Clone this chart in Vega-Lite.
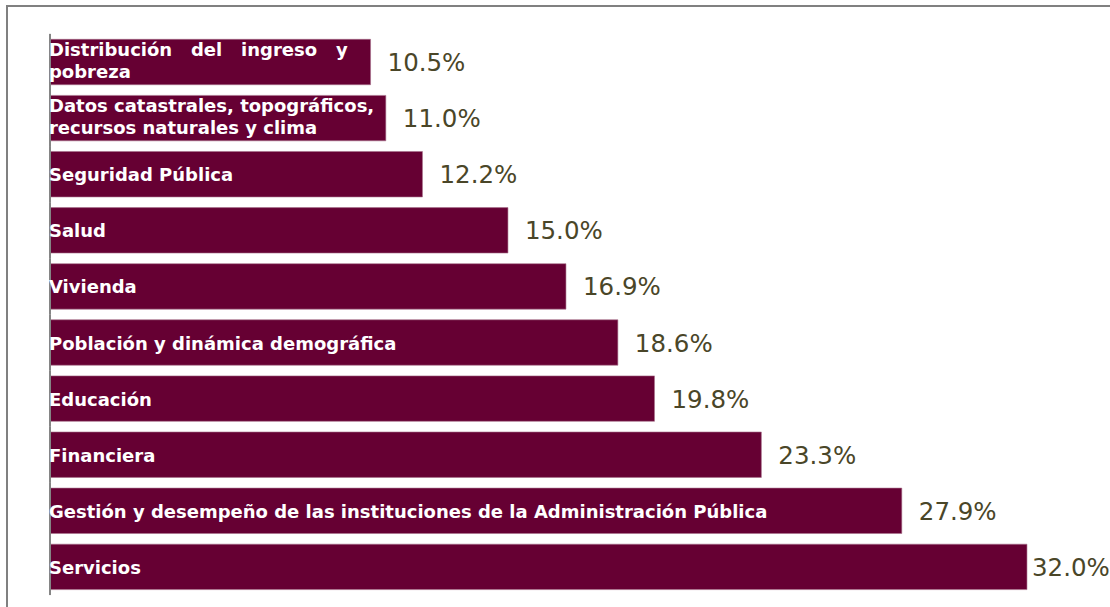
{
  "$schema": "https://vega.github.io/schema/vega-lite/v6.json",
  "autosize": {"type": "none"},
  "padding": {"left": 7, "top": 6, "right": 0, "bottom": 0},
  "width": 1113,
  "height": 610,
  "background": "white",
  "config": {
    "view": {"stroke": "#808080", "strokeWidth": 2},
    "font": "DejaVu Sans"
  },
  "data": {
    "values": [
      {"label": ["Distribución\u00a0\u00a0\u00a0del\u00a0\u00a0\u00a0ingreso\u00a0\u00a0\u00a0y", "pobreza"], "value": 10.5, "pct": "10.5%"},
      {"label": ["Datos catastrales, topográficos,", "recursos naturales y clima"], "value": 11.0, "pct": "11.0%"},
      {"label": "Seguridad Pública", "value": 12.2, "pct": "12.2%"},
      {"label": "Salud", "value": 15.0, "pct": "15.0%"},
      {"label": "Vivienda", "value": 16.9, "pct": "16.9%"},
      {"label": "Población y dinámica demográfica", "value": 18.6, "pct": "18.6%"},
      {"label": "Educación", "value": 19.8, "pct": "19.8%"},
      {"label": "Financiera", "value": 23.3, "pct": "23.3%"},
      {"label": "Gestión y desempeño de las instituciones de la Administración Pública", "value": 27.9, "pct": "27.9%"},
      {"label": "Servicios", "value": 32.0, "pct": "32.0%"}
    ]
  },
  "encoding": {
    "y": {
      "field": "pct",
      "type": "nominal",
      "sort": null,
      "axis": null,
      "scale": {"paddingInner": 0.19, "paddingOuter": 0.532, "align": 0.558}
    }
  },
  "layer": [
    {
      "mark": {"type": "bar", "color": "#660033", "stroke": "#a8708c", "strokeWidth": 0.6},
      "encoding": {
        "x": {"field": "value", "type": "quantitative", "axis": null,
              "scale": {"domain": [-1.408, 35.047], "nice": false, "zero": false}}
      }
    },
    {
      "mark": {"type": "rule", "color": "#858585", "strokeWidth": 2},
      "encoding": {
        "x": {"datum": 0, "type": "quantitative"},
        "y": {"field": "pct", "type": "nominal", "sort": null, "bandPosition": -0.12},
        "y2": {"field": "pct", "bandPosition": 1.12}
      }
    },
    {
      "transform": [{"filter": "!isArray(datum.label)"}],
      "mark": {"type": "text", "align": "left", "baseline": "middle", "color": "white", "fontWeight": "bold", "fontSize": 18, "dx": -1, "dy": 2},
      "encoding": {
        "x": {"datum": 0, "type": "quantitative"},
        "text": {"field": "label"}
      }
    },
    {
      "transform": [{"filter": "isArray(datum.label)"}],
      "mark": {"type": "text", "align": "left", "baseline": "middle", "color": "white", "fontWeight": "bold", "fontSize": 18, "lineHeight": 22.5, "dx": -1, "dy": -11.5},
      "encoding": {
        "x": {"datum": 0, "type": "quantitative"},
        "text": {"field": "label"}
      }
    },
    {
      "transform": [{"filter": "datum.value < 30"}],
      "mark": {"type": "text", "align": "left", "baseline": "middle", "color": "#4a4628", "fontSize": 24.5, "dx": 17, "dy": 2},
      "encoding": {
        "x": {"field": "value", "type": "quantitative"},
        "text": {"field": "pct"}
      }
    },
    {
      "transform": [{"filter": "datum.value >= 30"}],
      "mark": {"type": "text", "align": "left", "baseline": "middle", "color": "#4a4628", "fontSize": 24.5, "dx": 5, "dy": 2},
      "encoding": {
        "x": {"field": "value", "type": "quantitative"},
        "text": {"field": "pct"}
      }
    }
  ]
}
